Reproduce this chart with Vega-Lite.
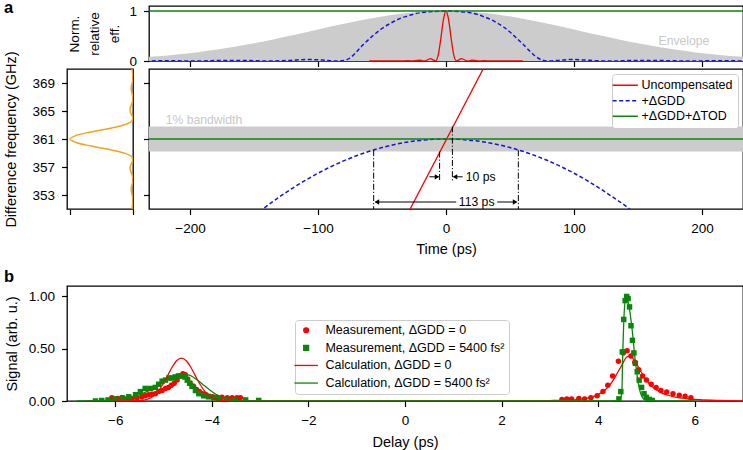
{
  "$schema": "https://vega.github.io/schema/vega-lite/v6.json",
  "padding": {"left": 2, "top": 0, "right": 0, "bottom": 0},
  "spacing": 11,
  "resolve": {"scale": {"color": "independent", "shape": "independent", "strokeDash": "independent"}},
  "config": {
    "font": "Liberation Sans",
    "view": {"stroke": "black", "strokeWidth": 1.3},
    "axis": {
      "domain": false, "grid": false, "tickColor": "black", "tickSize": 5.5, "tickWidth": 1.2,
      "labelFont": "Liberation Sans", "labelFontSize": 13.5, "labelColor": "black",
      "titleFont": "Liberation Sans", "titleFontSize": 14.5, "titleFontWeight": "normal", "titleColor": "black"
    },
    "axisX": {"labelPadding": 6.5, "titlePadding": 8},
    "axisY": {"labelPadding": 7, "titlePadding": 10},
    "title": {"font": "Liberation Sans", "fontSize": 16.5, "fontWeight": "bold", "anchor": "start", "color": "black", "frame": "group"},
    "legend": {"labelFont": "Liberation Sans", "labelFontSize": 12.5, "labelColor": "black", "labelLimit": 400}
  },
  "vconcat": [
    {
      "spacing": -24.5,
      "resolve": {"scale": {"color": "independent", "strokeDash": "independent"}},
      "vconcat": [
        {
          "spacing": 16,
          "bounds": "flush",
          "hconcat": [
            {
              "width": 66,
              "height": 55,
              "view": {"stroke": null},
              "title": {"text": "a", "dx": -63, "dy": 24.7, "offset": 1, "baseline": "alphabetic"},
              "data": {"values": [{}]},
              "mark": {"type": "point", "opacity": 0}
            },
            {
              "width": 594,
              "height": 55,
              "layer": [
                {
                  "data": {"values": [
                    {"t": -240, "v": 0.069}, {"t": -225, "v": 0.096}, {"t": -210, "v": 0.13}, {"t": -195, "v": 0.172},
                    {"t": -180, "v": 0.224}, {"t": -165, "v": 0.284}, {"t": -150, "v": 0.353}, {"t": -135, "v": 0.431},
                    {"t": -120, "v": 0.514}, {"t": -105, "v": 0.601}, {"t": -90, "v": 0.688}, {"t": -75, "v": 0.771},
                    {"t": -60, "v": 0.847}, {"t": -45, "v": 0.911}, {"t": -30, "v": 0.959}, {"t": -15, "v": 0.99},
                    {"t": 0, "v": 1.0},
                    {"t": 15, "v": 0.99}, {"t": 30, "v": 0.959}, {"t": 45, "v": 0.911}, {"t": 60, "v": 0.847},
                    {"t": 75, "v": 0.771}, {"t": 90, "v": 0.688}, {"t": 105, "v": 0.601}, {"t": 120, "v": 0.514},
                    {"t": 135, "v": 0.431}, {"t": 150, "v": 0.353}, {"t": 165, "v": 0.284}, {"t": 180, "v": 0.224},
                    {"t": 195, "v": 0.172}, {"t": 210, "v": 0.13}, {"t": 225, "v": 0.096}, {"t": 240, "v": 0.069}
                  ]},
                  "mark": {"type": "area", "color": "#cccccc", "interpolate": "monotone", "clip": true},
                  "encoding": {
                    "x": {"field": "t", "type": "quantitative", "scale": {"domain": [-232, 232], "nice": false},
                          "axis": {"values": [-200, -100, 0, 100, 200], "labels": false, "title": null}},
                    "y": {"field": "v", "type": "quantitative", "scale": {"domain": [0, 1.1], "nice": false},
                          "axis": {"values": [0, 1], "format": "d", "title": ["Norm.", "relative", "eff."],
                                   "titleFontSize": 13.5, "titleLineHeight": 20, "titlePadding": 7,
                                   "encode": {"title": {"update": {"lineHeight": {"value": 20}}}}}}
                  }
                },
                {
                  "data": {"values": [{"label": "Envelope"}]},
                  "mark": {"type": "text", "align": "left", "baseline": "middle", "color": "#c8c8c8", "fontSize": 12.2},
                  "encoding": {
                    "x": {"datum": 166, "type": "quantitative"},
                    "y": {"datum": 0.4, "type": "quantitative"},
                    "text": {"field": "label"}
                  }
                },
                {
                  "data": {"values": [
                    {"t": -240, "v": 0.0}, {"t": -215, "v": 0.004}, {"t": -195, "v": 0.0}, {"t": -180, "v": 0.008},
                    {"t": -165, "v": 0.012}, {"t": -150, "v": 0.006}, {"t": -137, "v": 0.0}, {"t": -122, "v": 0.012},
                    {"t": -108, "v": 0.03}, {"t": -96, "v": 0.018}, {"t": -86, "v": 0.0}, {"t": -80, "v": 0.01},
                    {"t": -75, "v": 0.06}, {"t": -70, "v": 0.18}, {"t": -65, "v": 0.32}, {"t": -60, "v": 0.44},
                    {"t": -55, "v": 0.55}, {"t": -50, "v": 0.65}, {"t": -45, "v": 0.73}, {"t": -40, "v": 0.8},
                    {"t": -35, "v": 0.86}, {"t": -30, "v": 0.9}, {"t": -25, "v": 0.94}, {"t": -20, "v": 0.965},
                    {"t": -10, "v": 0.99}, {"t": 0, "v": 1.0}, {"t": 10, "v": 0.99}, {"t": 20, "v": 0.96},
                    {"t": 25, "v": 0.93}, {"t": 30, "v": 0.88}, {"t": 35, "v": 0.83}, {"t": 40, "v": 0.76},
                    {"t": 45, "v": 0.68}, {"t": 50, "v": 0.58}, {"t": 55, "v": 0.46}, {"t": 60, "v": 0.34},
                    {"t": 65, "v": 0.21}, {"t": 70, "v": 0.09}, {"t": 75, "v": 0.02}, {"t": 80, "v": 0.0},
                    {"t": 88, "v": 0.012}, {"t": 98, "v": 0.03}, {"t": 108, "v": 0.02}, {"t": 118, "v": 0.004},
                    {"t": 130, "v": 0.0}, {"t": 145, "v": 0.01}, {"t": 160, "v": 0.012}, {"t": 175, "v": 0.006},
                    {"t": 190, "v": 0.0}, {"t": 210, "v": 0.004}, {"t": 240, "v": 0.0}
                  ]},
                  "mark": {"type": "line", "color": "#1414dc", "strokeWidth": 1.5, "strokeDash": [4, 2.5], "interpolate": "monotone", "clip": true},
                  "encoding": {
                    "x": {"field": "t", "type": "quantitative"},
                    "y": {"field": "v", "type": "quantitative"}
                  }
                },
                {
                  "data": {"values": [
                    {"t": -60, "v": 0.0}, {"t": -40, "v": 0.002}, {"t": -34, "v": 0.0}, {"t": -30, "v": 0.007},
                    {"t": -26, "v": 0.0}, {"t": -22, "v": 0.014}, {"t": -20, "v": 0.015}, {"t": -18, "v": 0.003},
                    {"t": -16, "v": 0.004}, {"t": -14, "v": 0.03}, {"t": -12, "v": 0.047}, {"t": -10, "v": 0.02},
                    {"t": -8, "v": 0.004}, {"t": -6, "v": 0.129}, {"t": -4, "v": 0.454}, {"t": -2, "v": 0.831},
                    {"t": 0, "v": 1.0}, {"t": 2, "v": 0.831}, {"t": 4, "v": 0.454}, {"t": 6, "v": 0.129},
                    {"t": 8, "v": 0.004}, {"t": 10, "v": 0.02}, {"t": 12, "v": 0.047}, {"t": 14, "v": 0.03},
                    {"t": 16, "v": 0.004}, {"t": 18, "v": 0.003}, {"t": 20, "v": 0.015}, {"t": 22, "v": 0.014},
                    {"t": 26, "v": 0.0}, {"t": 30, "v": 0.007}, {"t": 34, "v": 0.0}, {"t": 40, "v": 0.002}, {"t": 60, "v": 0.0}
                  ]},
                  "mark": {"type": "line", "color": "#ff0000", "strokeWidth": 1.3, "interpolate": "monotone", "clip": true},
                  "encoding": {
                    "x": {"field": "t", "type": "quantitative"},
                    "y": {"field": "v", "type": "quantitative"}
                  }
                },
                {
                  "data": {"values": [{"t": -240, "v": 1}, {"t": 240, "v": 1}]},
                  "mark": {"type": "line", "color": "#0a870a", "strokeWidth": 1.3, "clip": true},
                  "encoding": {
                    "x": {"field": "t", "type": "quantitative"},
                    "y": {"field": "v", "type": "quantitative"}
                  }
                }
              ]
            }
          ]
        },
        {
          "spacing": 16,
          "bounds": "flush",
          "resolve": {"scale": {"color": "independent", "strokeDash": "independent"}},
          "hconcat": [
            {
              "width": 66,
              "height": 140,
              "data": {"values": [
                {"f": 351, "p": 0.015}, {"f": 351.5, "p": 0.01}, {"f": 352, "p": 0.001}, {"f": 352.5, "p": 0.002},
                {"f": 353, "p": 0.013}, {"f": 353.5, "p": 0.026}, {"f": 354, "p": 0.028}, {"f": 354.5, "p": 0.015},
                {"f": 355, "p": 0.001}, {"f": 355.5, "p": 0.003}, {"f": 356, "p": 0.02}, {"f": 356.5, "p": 0.041},
                {"f": 357, "p": 0.046}, {"f": 357.5, "p": 0.025}, {"f": 358, "p": 0.001}, {"f": 358.5, "p": 0.024},
                {"f": 359, "p": 0.146}, {"f": 359.5, "p": 0.378}, {"f": 360, "p": 0.665}, {"f": 360.5, "p": 0.906},
                {"f": 361, "p": 1.0},
                {"f": 361.5, "p": 0.906}, {"f": 362, "p": 0.665}, {"f": 362.5, "p": 0.378}, {"f": 363, "p": 0.146},
                {"f": 363.5, "p": 0.024}, {"f": 364, "p": 0.001}, {"f": 364.5, "p": 0.025}, {"f": 365, "p": 0.046},
                {"f": 365.5, "p": 0.041}, {"f": 366, "p": 0.02}, {"f": 366.5, "p": 0.003}, {"f": 367, "p": 0.001},
                {"f": 367.5, "p": 0.015}, {"f": 368, "p": 0.028}, {"f": 368.5, "p": 0.026}, {"f": 369, "p": 0.013},
                {"f": 369.5, "p": 0.002}, {"f": 370, "p": 0.001}, {"f": 370.5, "p": 0.01}, {"f": 371, "p": 0.015}
              ]},
              "mark": {"type": "line", "color": "#f7a21b", "strokeWidth": 1.5, "interpolate": "catmull-rom", "clip": true},
              "encoding": {
                "y": {"field": "f", "type": "quantitative", "scale": {"domain": [351, 371], "nice": false, "zero": false},
                      "axis": {"values": [353, 357, 361, 365, 369], "title": "Difference frequency (GHz)", "titlePadding": 13.5}},
                "x": {"field": "p", "type": "quantitative", "scale": {"domain": [0, 1.048], "reverse": true, "nice": false},
                      "axis": {"values": [0, 1], "labels": false, "title": null}},
                "order": {"field": "f"}
              }
            },
            {
              "width": 594,
              "height": 140,
              "layer": [
                {
                  "data": {"values": [{"lo": 359.2, "hi": 362.8}]},
                  "mark": {"type": "rect", "color": "#cccccc"},
                  "encoding": {
                    "y": {"field": "lo", "type": "quantitative", "scale": {"domain": [351, 371], "nice": false, "zero": false},
                          "axis": {"values": [353, 357, 361, 365, 369], "labels": false, "title": null}},
                    "y2": {"field": "hi"}
                  }
                },
                {
                  "data": {"values": [{"label": "1% bandwidth"}]},
                  "mark": {"type": "text", "align": "left", "baseline": "middle", "color": "#c8c8c8", "fontSize": 12.2},
                  "encoding": {
                    "x": {"datum": -219, "type": "quantitative", "scale": {"domain": [-232, 232], "nice": false},
                          "axis": {"values": [-200, -100, 0, 100, 200], "title": "Time (ps)"}},
                    "y": {"datum": 363.7, "type": "quantitative"},
                    "text": {"field": "label"}
                  }
                },
                {
                  "data": {"values": [
                    {"t": -146, "f": 350.6, "s": "+ΔGDD"}, {"t": -130, "f": 352.74, "s": "+ΔGDD"}, {"t": -120, "f": 353.96, "s": "+ΔGDD"},
                    {"t": -110, "f": 355.08, "s": "+ΔGDD"}, {"t": -100, "f": 356.11, "s": "+ΔGDD"}, {"t": -90, "f": 357.04, "s": "+ΔGDD"},
                    {"t": -80, "f": 357.87, "s": "+ΔGDD"}, {"t": -70, "f": 358.6, "s": "+ΔGDD"}, {"t": -60, "f": 359.24, "s": "+ΔGDD"},
                    {"t": -50, "f": 359.78, "s": "+ΔGDD"}, {"t": -40, "f": 360.22, "s": "+ΔGDD"}, {"t": -30, "f": 360.56, "s": "+ΔGDD"},
                    {"t": -20, "f": 360.8, "s": "+ΔGDD"}, {"t": -10, "f": 360.95, "s": "+ΔGDD"}, {"t": 0, "f": 361.0, "s": "+ΔGDD"},
                    {"t": 10, "f": 360.95, "s": "+ΔGDD"}, {"t": 20, "f": 360.8, "s": "+ΔGDD"}, {"t": 30, "f": 360.56, "s": "+ΔGDD"},
                    {"t": 40, "f": 360.22, "s": "+ΔGDD"}, {"t": 50, "f": 359.78, "s": "+ΔGDD"}, {"t": 60, "f": 359.24, "s": "+ΔGDD"},
                    {"t": 70, "f": 358.6, "s": "+ΔGDD"}, {"t": 80, "f": 357.87, "s": "+ΔGDD"}, {"t": 90, "f": 357.04, "s": "+ΔGDD"},
                    {"t": 100, "f": 356.11, "s": "+ΔGDD"}, {"t": 110, "f": 355.08, "s": "+ΔGDD"}, {"t": 120, "f": 353.96, "s": "+ΔGDD"},
                    {"t": 130, "f": 352.74, "s": "+ΔGDD"}, {"t": 142, "f": 351.2, "s": "+ΔGDD"}, {"t": 146, "f": 350.6, "s": "+ΔGDD"}
                  ]},
                  "mark": {"type": "line", "strokeWidth": 1.5, "interpolate": "monotone", "clip": true},
                  "encoding": {
                    "x": {"field": "t", "type": "quantitative"},
                    "y": {"field": "f", "type": "quantitative"},
                    "color": {"field": "s", "type": "nominal"},
                    "strokeDash": {"field": "s", "type": "nominal"}
                  }
                },
                {
                  "data": {"values": [
                    {"t": -28, "f": 351, "s": "Uncompensated"}, {"t": 29, "f": 371, "s": "Uncompensated"}
                  ]},
                  "mark": {"type": "line", "strokeWidth": 1.3, "clip": true},
                  "encoding": {
                    "x": {"field": "t", "type": "quantitative"},
                    "y": {"field": "f", "type": "quantitative"},
                    "color": {
                      "field": "s", "type": "nominal",
                      "scale": {"domain": ["Uncompensated", "+ΔGDD", "+ΔGDD+ΔTOD"], "range": ["#ff0000", "#1414dc", "#0a870a"]},
                      "legend": {
                        "title": null, "orient": "top-right", "offset": 5, "symbolType": "M-4.6,0H4.6", "symbolSize": 30,
                        "symbolStrokeWidth": 1.5, "symbolOffset": 2, "labelOffset": 10, "padding": 5, "rowPadding": 2.5,
                        "strokeColor": "#cccccc", "fillColor": "white", "cornerRadius": 3
                      }
                    },
                    "strokeDash": {
                      "field": "s", "type": "nominal",
                      "scale": {"domain": ["Uncompensated", "+ΔGDD", "+ΔGDD+ΔTOD"], "range": [[1, 0], [4, 2.5], [1, 0]]},
                      "legend": {"title": null}
                    }
                  }
                },
                {
                  "data": {"values": [
                    {"t": -240, "f": 361, "s": "+ΔGDD+ΔTOD"}, {"t": 240, "f": 361, "s": "+ΔGDD+ΔTOD"}
                  ]},
                  "mark": {"type": "line", "strokeWidth": 1.3, "clip": true},
                  "encoding": {
                    "x": {"field": "t", "type": "quantitative"},
                    "y": {"field": "f", "type": "quantitative"},
                    "color": {"field": "s", "type": "nominal"},
                    "strokeDash": {"field": "s", "type": "nominal"}
                  }
                },
                {
                  "data": {"values": [
                    {"t": -5, "f1": 359.2, "f2": 355.0}, {"t": 5, "f1": 362.8, "f2": 355.0},
                    {"t": -56.5, "f1": 359.4, "f2": 351}, {"t": 56.5, "f1": 359.4, "f2": 351}
                  ]},
                  "mark": {"type": "rule", "color": "black", "strokeWidth": 1, "strokeDash": [6, 2, 1.2, 2]},
                  "encoding": {
                    "x": {"field": "t", "type": "quantitative"},
                    "y": {"field": "f1", "type": "quantitative"},
                    "y2": {"field": "f2"}
                  }
                },
                {
                  "data": {"values": [
                    {"t1": -13, "t2": -6, "f": 355.6}, {"t1": 6, "t2": 13, "f": 355.6},
                    {"t1": -55, "t2": 8, "f": 352.0}, {"t1": 40, "t2": 55, "f": 352.0}
                  ]},
                  "mark": {"type": "rule", "color": "black", "strokeWidth": 1},
                  "encoding": {
                    "x": {"field": "t1", "type": "quantitative"},
                    "x2": {"field": "t2"},
                    "y": {"field": "f", "type": "quantitative"}
                  }
                },
                {
                  "data": {"values": [{"t": -7, "f": 355.6}, {"t": 54, "f": 352.0}]},
                  "mark": {"type": "point", "shape": "triangle-right", "filled": true, "color": "black", "opacity": 1, "size": 28},
                  "encoding": {
                    "x": {"field": "t", "type": "quantitative"},
                    "y": {"field": "f", "type": "quantitative"}
                  }
                },
                {
                  "data": {"values": [{"t": 7, "f": 355.6}, {"t": -54, "f": 352.0}]},
                  "mark": {"type": "point", "shape": "triangle-left", "filled": true, "color": "black", "opacity": 1, "size": 28},
                  "encoding": {
                    "x": {"field": "t", "type": "quantitative"},
                    "y": {"field": "f", "type": "quantitative"}
                  }
                },
                {
                  "data": {"values": [{"t": 15.5, "f": 355.6, "label": "10 ps"}, {"t": 10, "f": 352.0, "label": "113 ps"}]},
                  "mark": {"type": "text", "align": "left", "baseline": "middle", "color": "black", "fontSize": 12.2},
                  "encoding": {
                    "x": {"field": "t", "type": "quantitative"},
                    "y": {"field": "f", "type": "quantitative"},
                    "text": {"field": "label"}
                  }
                }
              ]
            }
          ]
        }
      ]
    },
    {
      "width": 676,
      "height": 115,
      "title": {"text": "b", "dx": -63, "dy": 13.7, "offset": 1, "baseline": "alphabetic"},
      "layer": [
        {
          "data": {"values": [
            {"d": -6.07, "v": 0.03, "s": "Measurement, ΔGDD = 0"}, {"d": -5.95, "v": 0.025, "s": "Measurement, ΔGDD = 0"},
            {"d": -5.86, "v": 0.03, "s": "Measurement, ΔGDD = 0"}, {"d": -5.75, "v": 0.025, "s": "Measurement, ΔGDD = 0"},
            {"d": -5.65, "v": 0.025, "s": "Measurement, ΔGDD = 0"}, {"d": -5.55, "v": 0.03, "s": "Measurement, ΔGDD = 0"},
            {"d": -5.45, "v": 0.04, "s": "Measurement, ΔGDD = 0"}, {"d": -5.38, "v": 0.05, "s": "Measurement, ΔGDD = 0"},
            {"d": -5.31, "v": 0.06, "s": "Measurement, ΔGDD = 0"}, {"d": -5.24, "v": 0.065, "s": "Measurement, ΔGDD = 0"},
            {"d": -5.17, "v": 0.07, "s": "Measurement, ΔGDD = 0"}, {"d": -5.1, "v": 0.09, "s": "Measurement, ΔGDD = 0"},
            {"d": -5.03, "v": 0.1, "s": "Measurement, ΔGDD = 0"}, {"d": -4.96, "v": 0.12, "s": "Measurement, ΔGDD = 0"},
            {"d": -4.9, "v": 0.13, "s": "Measurement, ΔGDD = 0"}, {"d": -4.84, "v": 0.15, "s": "Measurement, ΔGDD = 0"},
            {"d": -4.78, "v": 0.17, "s": "Measurement, ΔGDD = 0"}, {"d": -4.72, "v": 0.2, "s": "Measurement, ΔGDD = 0"},
            {"d": -4.66, "v": 0.24, "s": "Measurement, ΔGDD = 0"}, {"d": -4.6, "v": 0.26, "s": "Measurement, ΔGDD = 0"},
            {"d": -4.55, "v": 0.25, "s": "Measurement, ΔGDD = 0"}, {"d": -4.5, "v": 0.21, "s": "Measurement, ΔGDD = 0"},
            {"d": -4.45, "v": 0.17, "s": "Measurement, ΔGDD = 0"}, {"d": -4.38, "v": 0.14, "s": "Measurement, ΔGDD = 0"},
            {"d": -4.32, "v": 0.11, "s": "Measurement, ΔGDD = 0"}, {"d": -4.26, "v": 0.09, "s": "Measurement, ΔGDD = 0"},
            {"d": -4.19, "v": 0.07, "s": "Measurement, ΔGDD = 0"}, {"d": -4.12, "v": 0.06, "s": "Measurement, ΔGDD = 0"},
            {"d": -4.05, "v": 0.045, "s": "Measurement, ΔGDD = 0"}, {"d": -3.98, "v": 0.04, "s": "Measurement, ΔGDD = 0"},
            {"d": -3.89, "v": 0.035, "s": "Measurement, ΔGDD = 0"}, {"d": -3.79, "v": 0.035, "s": "Measurement, ΔGDD = 0"},
            {"d": -3.68, "v": 0.03, "s": "Measurement, ΔGDD = 0"}, {"d": -3.58, "v": 0.03, "s": "Measurement, ΔGDD = 0"},
            {"d": -3.48, "v": 0.03, "s": "Measurement, ΔGDD = 0"}, {"d": -3.41, "v": 0.03, "s": "Measurement, ΔGDD = 0"},
            {"d": 3.25, "v": 0.015, "s": "Measurement, ΔGDD = 0"}, {"d": 3.35, "v": 0.02, "s": "Measurement, ΔGDD = 0"},
            {"d": 3.45, "v": 0.02, "s": "Measurement, ΔGDD = 0"}, {"d": 3.6, "v": 0.025, "s": "Measurement, ΔGDD = 0"},
            {"d": 3.72, "v": 0.02, "s": "Measurement, ΔGDD = 0"}, {"d": 3.85, "v": 0.03, "s": "Measurement, ΔGDD = 0"},
            {"d": 3.98, "v": 0.05, "s": "Measurement, ΔGDD = 0"}, {"d": 4.1, "v": 0.09, "s": "Measurement, ΔGDD = 0"},
            {"d": 4.2, "v": 0.15, "s": "Measurement, ΔGDD = 0"}, {"d": 4.3, "v": 0.24, "s": "Measurement, ΔGDD = 0"},
            {"d": 4.42, "v": 0.38, "s": "Measurement, ΔGDD = 0"}, {"d": 4.52, "v": 0.46, "s": "Measurement, ΔGDD = 0"},
            {"d": 4.6, "v": 0.48, "s": "Measurement, ΔGDD = 0"}, {"d": 4.68, "v": 0.43, "s": "Measurement, ΔGDD = 0"},
            {"d": 4.76, "v": 0.37, "s": "Measurement, ΔGDD = 0"}, {"d": 4.84, "v": 0.3, "s": "Measurement, ΔGDD = 0"},
            {"d": 4.92, "v": 0.24, "s": "Measurement, ΔGDD = 0"}, {"d": 5.0, "v": 0.2, "s": "Measurement, ΔGDD = 0"},
            {"d": 5.1, "v": 0.16, "s": "Measurement, ΔGDD = 0"}, {"d": 5.2, "v": 0.13, "s": "Measurement, ΔGDD = 0"},
            {"d": 5.3, "v": 0.1, "s": "Measurement, ΔGDD = 0"}, {"d": 5.42, "v": 0.085, "s": "Measurement, ΔGDD = 0"},
            {"d": 5.55, "v": 0.07, "s": "Measurement, ΔGDD = 0"}, {"d": 5.68, "v": 0.055, "s": "Measurement, ΔGDD = 0"},
            {"d": 5.8, "v": 0.045, "s": "Measurement, ΔGDD = 0"}, {"d": 5.92, "v": 0.03, "s": "Measurement, ΔGDD = 0"},
            {"d": -6.41, "v": 0.0, "s": "Measurement, ΔGDD = 5400 fs²"}, {"d": -6.28, "v": 0.005, "s": "Measurement, ΔGDD = 5400 fs²"},
            {"d": -6.15, "v": 0.01, "s": "Measurement, ΔGDD = 5400 fs²"}, {"d": -6.0, "v": 0.02, "s": "Measurement, ΔGDD = 5400 fs²"},
            {"d": -5.85, "v": 0.03, "s": "Measurement, ΔGDD = 5400 fs²"}, {"d": -5.72, "v": 0.04, "s": "Measurement, ΔGDD = 5400 fs²"},
            {"d": -5.58, "v": 0.06, "s": "Measurement, ΔGDD = 5400 fs²"}, {"d": -5.48, "v": 0.09, "s": "Measurement, ΔGDD = 5400 fs²"},
            {"d": -5.38, "v": 0.12, "s": "Measurement, ΔGDD = 5400 fs²"}, {"d": -5.27, "v": 0.12, "s": "Measurement, ΔGDD = 5400 fs²"},
            {"d": -5.17, "v": 0.13, "s": "Measurement, ΔGDD = 5400 fs²"}, {"d": -5.1, "v": 0.16, "s": "Measurement, ΔGDD = 5400 fs²"},
            {"d": -5.03, "v": 0.19, "s": "Measurement, ΔGDD = 5400 fs²"}, {"d": -4.96, "v": 0.2, "s": "Measurement, ΔGDD = 5400 fs²"},
            {"d": -4.89, "v": 0.22, "s": "Measurement, ΔGDD = 5400 fs²"}, {"d": -4.82, "v": 0.22, "s": "Measurement, ΔGDD = 5400 fs²"},
            {"d": -4.76, "v": 0.23, "s": "Measurement, ΔGDD = 5400 fs²"}, {"d": -4.69, "v": 0.24, "s": "Measurement, ΔGDD = 5400 fs²"},
            {"d": -4.62, "v": 0.24, "s": "Measurement, ΔGDD = 5400 fs²"}, {"d": -4.56, "v": 0.23, "s": "Measurement, ΔGDD = 5400 fs²"},
            {"d": -4.51, "v": 0.2, "s": "Measurement, ΔGDD = 5400 fs²"}, {"d": -4.46, "v": 0.17, "s": "Measurement, ΔGDD = 5400 fs²"},
            {"d": -4.41, "v": 0.14, "s": "Measurement, ΔGDD = 5400 fs²"}, {"d": -4.34, "v": 0.1, "s": "Measurement, ΔGDD = 5400 fs²"},
            {"d": -4.27, "v": 0.07, "s": "Measurement, ΔGDD = 5400 fs²"}, {"d": -4.17, "v": 0.05, "s": "Measurement, ΔGDD = 5400 fs²"},
            {"d": -4.07, "v": 0.04, "s": "Measurement, ΔGDD = 5400 fs²"}, {"d": -3.96, "v": 0.03, "s": "Measurement, ΔGDD = 5400 fs²"},
            {"d": -3.86, "v": 0.025, "s": "Measurement, ΔGDD = 5400 fs²"}, {"d": -3.7, "v": 0.015, "s": "Measurement, ΔGDD = 5400 fs²"},
            {"d": -3.52, "v": 0.01, "s": "Measurement, ΔGDD = 5400 fs²"}, {"d": -3.3, "v": 0.01, "s": "Measurement, ΔGDD = 5400 fs²"},
            {"d": -3.03, "v": 0.005, "s": "Measurement, ΔGDD = 5400 fs²"},
            {"d": 4.43, "v": 0.02, "s": "Measurement, ΔGDD = 5400 fs²"}, {"d": 4.47, "v": 0.09, "s": "Measurement, ΔGDD = 5400 fs²"},
            {"d": 4.5, "v": 0.47, "s": "Measurement, ΔGDD = 5400 fs²"}, {"d": 4.53, "v": 0.78, "s": "Measurement, ΔGDD = 5400 fs²"},
            {"d": 4.56, "v": 0.96, "s": "Measurement, ΔGDD = 5400 fs²"}, {"d": 4.59, "v": 1.0, "s": "Measurement, ΔGDD = 5400 fs²"},
            {"d": 4.62, "v": 0.98, "s": "Measurement, ΔGDD = 5400 fs²"}, {"d": 4.65, "v": 0.9, "s": "Measurement, ΔGDD = 5400 fs²"},
            {"d": 4.68, "v": 0.72, "s": "Measurement, ΔGDD = 5400 fs²"}, {"d": 4.71, "v": 0.58, "s": "Measurement, ΔGDD = 5400 fs²"},
            {"d": 4.74, "v": 0.46, "s": "Measurement, ΔGDD = 5400 fs²"}, {"d": 4.77, "v": 0.36, "s": "Measurement, ΔGDD = 5400 fs²"},
            {"d": 4.81, "v": 0.28, "s": "Measurement, ΔGDD = 5400 fs²"}, {"d": 4.85, "v": 0.2, "s": "Measurement, ΔGDD = 5400 fs²"},
            {"d": 4.9, "v": 0.13, "s": "Measurement, ΔGDD = 5400 fs²"}, {"d": 4.95, "v": 0.07, "s": "Measurement, ΔGDD = 5400 fs²"},
            {"d": 5.0, "v": 0.035, "s": "Measurement, ΔGDD = 5400 fs²"}, {"d": 5.06, "v": 0.015, "s": "Measurement, ΔGDD = 5400 fs²"},
            {"d": 5.12, "v": 0.005, "s": "Measurement, ΔGDD = 5400 fs²"}
          ]},
          "mark": {"type": "point", "filled": true, "opacity": 1, "size": 30, "clip": true},
          "encoding": {
            "x": {"field": "d", "type": "quantitative", "scale": {"domain": [-7, 7], "nice": false},
                  "axis": {"values": [-6, -4, -2, 0, 2, 4, 6], "title": "Delay (ps)", "titlePadding": 8.5}},
            "y": {"field": "v", "type": "quantitative", "scale": {"domain": [0, 1.1], "nice": false},
                  "axis": {"values": [0, 0.25, 0.5, 0.75, 1.0], "format": ".2f", "title": "Signal (arb. u.)", "titlePadding": 8.7}},
            "color": {
              "field": "s", "type": "nominal",
              "scale": {
                "domain": ["Measurement, ΔGDD = 0", "Measurement, ΔGDD = 5400 fs²", "Calculation, ΔGDD = 0", "Calculation, ΔGDD = 5400 fs²"],
                "range": ["#ff0000", "#0a870a", "#ff0000", "#0a870a"]
              },
              "legend": {
                "title": null, "orient": "none", "legendX": 228, "legendY": 34, "symbolSize": 24, "symbolStrokeWidth": 1.3,
                "symbolOffset": 0.9, "labelOffset": 13, "padding": 4, "rowPadding": 4.6,
                "strokeColor": "#cccccc", "fillColor": "white", "cornerRadius": 3,
                "encode": {
                  "symbols": {
                    "update": {
                      "fill": {"signal": "indexof(datum.value, '5400') >= 0 ? '#0a870a' : '#ff0000'"},
                      "stroke": {"signal": "indexof(datum.value, '5400') >= 0 ? '#0a870a' : '#ff0000'"},
                      "opacity": {"value": 1}
                    }
                  }
                }
              }
            },
            "shape": {
              "field": "s", "type": "nominal",
              "scale": {
                "domain": ["Measurement, ΔGDD = 0", "Measurement, ΔGDD = 5400 fs²", "Calculation, ΔGDD = 0", "Calculation, ΔGDD = 5400 fs²"],
                "range": ["circle", "square", "M-4.8,0H4.8", "M-4.8,0H4.8"]
              },
              "legend": {"title": null}
            }
          }
        },
        {
          "data": {"values": [
            {"d": -6.6, "v": 0.0, "s": "Calculation, ΔGDD = 0"}, {"d": -5.63, "v": 0.002, "s": "Calculation, ΔGDD = 0"},
            {"d": -5.43, "v": 0.007, "s": "Calculation, ΔGDD = 0"}, {"d": -5.33, "v": 0.018, "s": "Calculation, ΔGDD = 0"},
            {"d": -5.23, "v": 0.041, "s": "Calculation, ΔGDD = 0"}, {"d": -5.13, "v": 0.083, "s": "Calculation, ΔGDD = 0"},
            {"d": -5.03, "v": 0.148, "s": "Calculation, ΔGDD = 0"}, {"d": -4.93, "v": 0.231, "s": "Calculation, ΔGDD = 0"},
            {"d": -4.83, "v": 0.318, "s": "Calculation, ΔGDD = 0"}, {"d": -4.73, "v": 0.385, "s": "Calculation, ΔGDD = 0"},
            {"d": -4.63, "v": 0.41, "s": "Calculation, ΔGDD = 0"}, {"d": -4.53, "v": 0.385, "s": "Calculation, ΔGDD = 0"},
            {"d": -4.43, "v": 0.318, "s": "Calculation, ΔGDD = 0"}, {"d": -4.33, "v": 0.231, "s": "Calculation, ΔGDD = 0"},
            {"d": -4.23, "v": 0.148, "s": "Calculation, ΔGDD = 0"}, {"d": -4.13, "v": 0.083, "s": "Calculation, ΔGDD = 0"},
            {"d": -4.03, "v": 0.041, "s": "Calculation, ΔGDD = 0"}, {"d": -3.93, "v": 0.018, "s": "Calculation, ΔGDD = 0"},
            {"d": -3.83, "v": 0.007, "s": "Calculation, ΔGDD = 0"}, {"d": -3.63, "v": 0.002, "s": "Calculation, ΔGDD = 0"},
            {"d": -3.2, "v": 0.0, "s": "Calculation, ΔGDD = 0"}, {"d": 2.6, "v": 0.0, "s": "Calculation, ΔGDD = 0"},
            {"d": 3.0, "v": 0.004, "s": "Calculation, ΔGDD = 0"}, {"d": 3.3, "v": 0.008, "s": "Calculation, ΔGDD = 0"},
            {"d": 3.6, "v": 0.016, "s": "Calculation, ΔGDD = 0"}, {"d": 3.85, "v": 0.035, "s": "Calculation, ΔGDD = 0"},
            {"d": 4.05, "v": 0.075, "s": "Calculation, ΔGDD = 0"}, {"d": 4.2, "v": 0.13, "s": "Calculation, ΔGDD = 0"},
            {"d": 4.3, "v": 0.19, "s": "Calculation, ΔGDD = 0"}, {"d": 4.4, "v": 0.27, "s": "Calculation, ΔGDD = 0"},
            {"d": 4.5, "v": 0.35, "s": "Calculation, ΔGDD = 0"}, {"d": 4.57, "v": 0.41, "s": "Calculation, ΔGDD = 0"},
            {"d": 4.64, "v": 0.43, "s": "Calculation, ΔGDD = 0"}, {"d": 4.72, "v": 0.41, "s": "Calculation, ΔGDD = 0"},
            {"d": 4.8, "v": 0.35, "s": "Calculation, ΔGDD = 0"}, {"d": 4.9, "v": 0.27, "s": "Calculation, ΔGDD = 0"},
            {"d": 5.0, "v": 0.2, "s": "Calculation, ΔGDD = 0"}, {"d": 5.1, "v": 0.145, "s": "Calculation, ΔGDD = 0"},
            {"d": 5.2, "v": 0.11, "s": "Calculation, ΔGDD = 0"}, {"d": 5.3, "v": 0.08, "s": "Calculation, ΔGDD = 0"},
            {"d": 5.45, "v": 0.055, "s": "Calculation, ΔGDD = 0"}, {"d": 5.6, "v": 0.038, "s": "Calculation, ΔGDD = 0"},
            {"d": 5.8, "v": 0.024, "s": "Calculation, ΔGDD = 0"}, {"d": 6.1, "v": 0.012, "s": "Calculation, ΔGDD = 0"},
            {"d": 6.5, "v": 0.005, "s": "Calculation, ΔGDD = 0"}, {"d": 7.0, "v": 0.002, "s": "Calculation, ΔGDD = 0"},
            {"d": -6.8, "v": 0.0, "s": "Calculation, ΔGDD = 5400 fs²"}, {"d": -6.2, "v": 0.005, "s": "Calculation, ΔGDD = 5400 fs²"},
            {"d": -5.9, "v": 0.015, "s": "Calculation, ΔGDD = 5400 fs²"}, {"d": -5.6, "v": 0.045, "s": "Calculation, ΔGDD = 5400 fs²"},
            {"d": -5.3, "v": 0.1, "s": "Calculation, ΔGDD = 5400 fs²"}, {"d": -5.1, "v": 0.15, "s": "Calculation, ΔGDD = 5400 fs²"},
            {"d": -4.9, "v": 0.21, "s": "Calculation, ΔGDD = 5400 fs²"}, {"d": -4.75, "v": 0.245, "s": "Calculation, ΔGDD = 5400 fs²"},
            {"d": -4.6, "v": 0.26, "s": "Calculation, ΔGDD = 5400 fs²"}, {"d": -4.45, "v": 0.245, "s": "Calculation, ΔGDD = 5400 fs²"},
            {"d": -4.3, "v": 0.2, "s": "Calculation, ΔGDD = 5400 fs²"}, {"d": -4.15, "v": 0.145, "s": "Calculation, ΔGDD = 5400 fs²"},
            {"d": -4.0, "v": 0.09, "s": "Calculation, ΔGDD = 5400 fs²"}, {"d": -3.85, "v": 0.045, "s": "Calculation, ΔGDD = 5400 fs²"},
            {"d": -3.7, "v": 0.018, "s": "Calculation, ΔGDD = 5400 fs²"}, {"d": -3.5, "v": 0.005, "s": "Calculation, ΔGDD = 5400 fs²"},
            {"d": -3.2, "v": 0.0, "s": "Calculation, ΔGDD = 5400 fs²"}, {"d": 4.3, "v": 0.0, "s": "Calculation, ΔGDD = 5400 fs²"},
            {"d": 4.45, "v": 0.01, "s": "Calculation, ΔGDD = 5400 fs²"}, {"d": 4.49, "v": 0.08, "s": "Calculation, ΔGDD = 5400 fs²"},
            {"d": 4.51, "v": 0.45, "s": "Calculation, ΔGDD = 5400 fs²"}, {"d": 4.54, "v": 0.85, "s": "Calculation, ΔGDD = 5400 fs²"},
            {"d": 4.58, "v": 1.0, "s": "Calculation, ΔGDD = 5400 fs²"}, {"d": 4.63, "v": 0.93, "s": "Calculation, ΔGDD = 5400 fs²"},
            {"d": 4.7, "v": 0.7, "s": "Calculation, ΔGDD = 5400 fs²"}, {"d": 4.77, "v": 0.38, "s": "Calculation, ΔGDD = 5400 fs²"},
            {"d": 4.84, "v": 0.15, "s": "Calculation, ΔGDD = 5400 fs²"}, {"d": 4.91, "v": 0.04, "s": "Calculation, ΔGDD = 5400 fs²"},
            {"d": 5.0, "v": 0.005, "s": "Calculation, ΔGDD = 5400 fs²"}, {"d": 5.1, "v": 0.0, "s": "Calculation, ΔGDD = 5400 fs²"},
            {"d": 6.0, "v": 0.0, "s": "Calculation, ΔGDD = 5400 fs²"}
          ]},
          "mark": {"type": "line", "strokeWidth": 1.3, "interpolate": "monotone", "clip": true},
          "encoding": {
            "x": {"field": "d", "type": "quantitative"},
            "y": {"field": "v", "type": "quantitative"},
            "color": {"field": "s", "type": "nominal"}
          }
        }
      ]
    }
  ]
}
